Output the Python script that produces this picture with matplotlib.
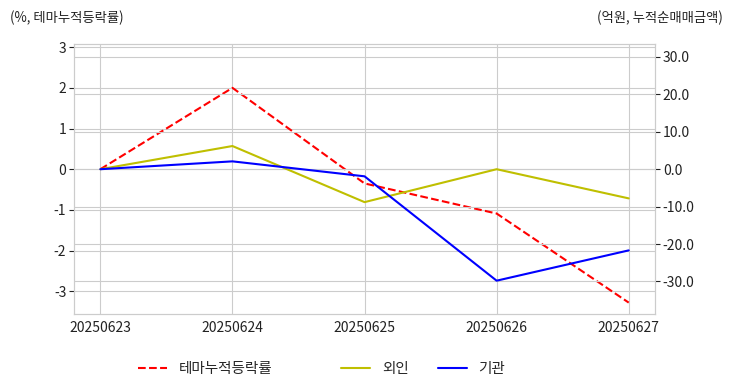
import matplotlib.pyplot as plt
import seaborn as sns
from matplotlib.ticker import FormatStrFormatter

sns.set_style('whitegrid')
plt.rcParams['font.family'] = ['Noto Sans CJK KR', 'DejaVu Sans']
plt.rcParams['axes.unicode_minus'] = False

dates = ['20250623', '20250624', '20250625', '20250626', '20250627']
theme_rate = [0.0, 2.0, -0.35, -1.09, -3.28]
foreign = [0.0, 6.2, -8.8, 0.0, -7.8]
institution = [0.0, 2.1, -1.9, -29.8, -21.7]

fig, ax1 = plt.subplots(figsize=(7.32, 3.92), dpi=100)
fig.subplots_adjust(left=0.101, right=0.895, top=0.888, bottom=0.2)
x = range(len(dates))

l1, = ax1.plot(x, theme_rate, color='red', ls='--', lw=1.5, label='테마누적등락률')
ax1.set_ylim(-3.55, 3.08)
ax1.set_yticks([-3, -2, -1, 0, 1, 2, 3])
ax1.set_xlim(-0.2, 4.2)
ax1.set_xticks(list(x))
ax1.set_xticklabels(dates)

ax2 = ax1.twinx()
l2, = ax2.plot(x, foreign, color='y', lw=1.5, label='외인')
l3, = ax2.plot(x, institution, color='blue', lw=1.5, label='기관')
ax2.set_ylim(-38.6, 33.5)
ax2.set_yticks([-30, -20, -10, 0, 10, 20, 30])
ax2.yaxis.set_major_formatter(FormatStrFormatter('%.1f'))

for ax in (ax1, ax2):
    ax.tick_params(labelsize=10, colors='#222222', pad=2)
    for s in ax.spines.values():
        s.set_color('#cccccc')

fig.text(0.013, 0.943, '(%, 테마누적등락률)', fontsize=9.6, color='#222222')
fig.text(0.987, 0.943, '(억원, 누적순매매금액)', fontsize=9.6, color='#222222', ha='right')

leg1 = fig.legend([l1], ['테마누적등락률'], loc='center left',
                  bbox_to_anchor=(138 / 732, 1 - 369 / 392), frameon=False,
                  fontsize=10.5, borderpad=0, borderaxespad=0)
fig.legend([l2, l3], ['외인', '기관'], loc='center left',
           bbox_to_anchor=(341 / 732, 1 - 369 / 392), ncol=2, frameon=False,
           fontsize=10.5, borderpad=0, borderaxespad=0)

plt.savefig('out.png')
